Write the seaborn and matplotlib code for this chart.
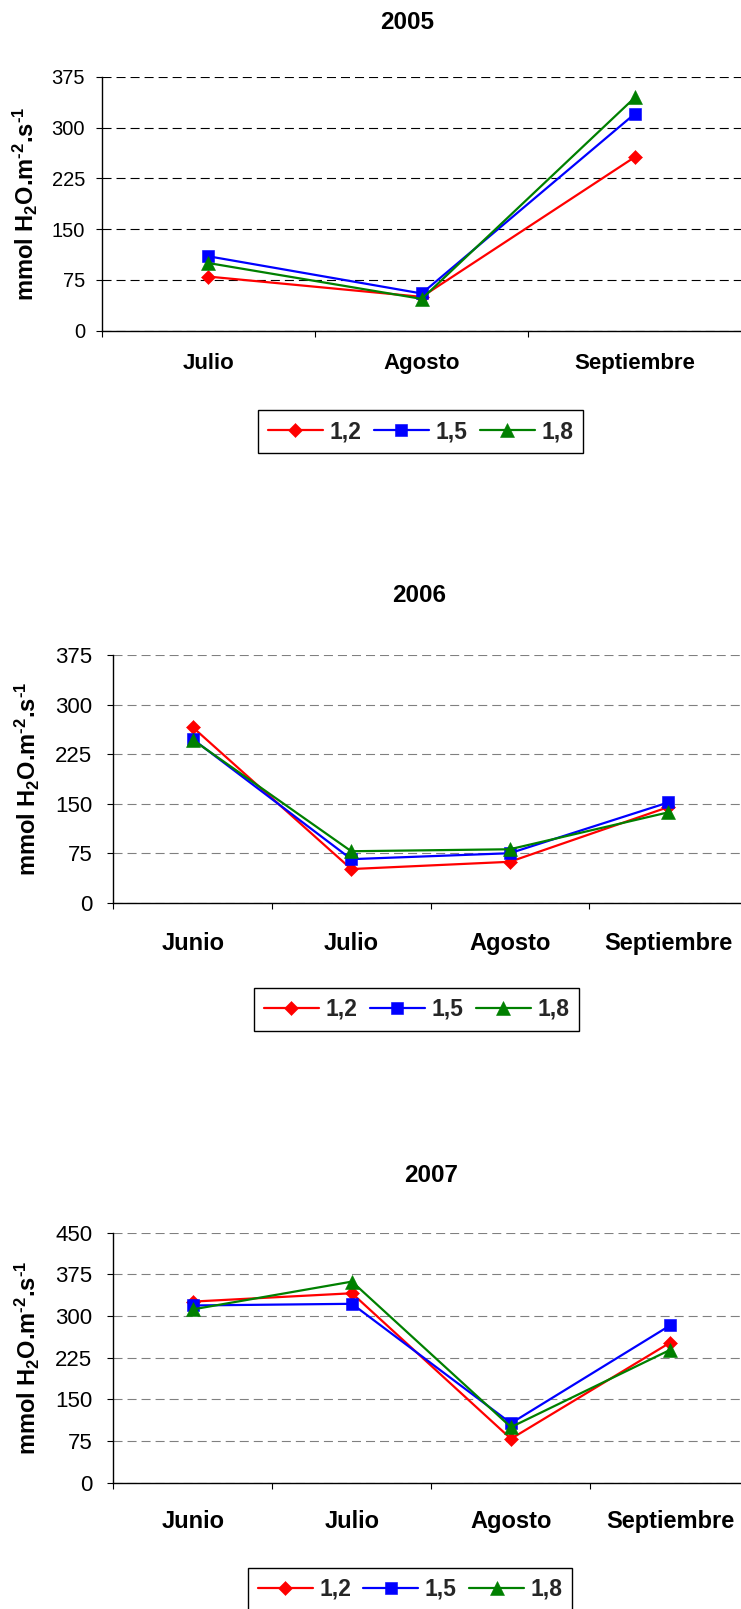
import numpy as np
import pandas as pd
import matplotlib
matplotlib.use("Agg")
import matplotlib.pyplot as plt
import seaborn as sns

# Series (plant spacing) and their styling
series_labels = ["1,2", "1,5", "1,8"]
series_colors = ["#FF0000", "#0000FF", "#008000"]
series_markers = ["D", "s", "^"]
series_msize = [7.0, 8.2, 9.8]

# 2005
months_2005 = ["Julio", "Agosto", "Septiembre"]
y2005_12 = [80, 50, 257]
y2005_15 = [110, 55, 321]
y2005_18 = [100, 47, 345]

# 2006
months_2006 = ["Junio", "Julio", "Agosto", "Septiembre"]
y2006_12 = [266, 51, 62, 145]
y2006_15 = [248, 66, 75, 152]
y2006_18 = [247, 78, 81, 137]

# 2007
months_2007 = ["Junio", "Julio", "Agosto", "Septiembre"]
y2007_12 = [326, 341, 79, 252]
y2007_15 = [319, 322, 107, 283]
y2007_18 = [312, 362, 100, 239]

yticks_a = [0, 75, 150, 225, 300, 375]
yticks_b = [0, 75, 150, 225, 300, 375, 450]

sns.set_theme(style="white")
plt.rcParams["font.family"] = ["Liberation Sans", "DejaVu Sans"]
plt.rcParams["mathtext.fontset"] = "custom"
plt.rcParams["mathtext.rm"] = "Liberation Sans:bold"
plt.rcParams["mathtext.default"] = "rm"
plt.rcParams["lines.scale_dashes"] = False

W, H = 741, 1609
fig = plt.figure(figsize=(W / 100, H / 100), dpi=100)
fig.patch.set_facecolor("white")


def px_rect(left, top, right, bottom):
    return [left / W, 1 - bottom / H, (right - left) / W, (bottom - top) / H]


panels = [
    dict(title="2005", months=months_2005, vals=[y2005_12, y2005_15, y2005_18],
         rect=(101.7, 77, 741.8, 330.7), yticks=yticks_a, grid="#000000",
         ytick_size=14.5, ytick_pad=7.7, xtick_size=16, xtick_pad=15.8,
         title_xy=(407, 29.3), ylab_x=25, leg_c=(420.6, 410.5)),
    dict(title="2006", months=months_2006, vals=[y2006_12, y2006_15, y2006_18],
         rect=(113.4, 655.3, 747.7, 902.7), yticks=yticks_a, grid="#808080",
         ytick_size=16, ytick_pad=11, xtick_size=17, xtick_pad=20.9,
         title_xy=(419, 601.7), ylab_x=27, leg_c=(416.4, 988.3)),
    dict(title="2007", months=months_2007, vals=[y2007_12, y2007_15, y2007_18],
         rect=(113.4, 1232.7, 749.5, 1482.7), yticks=yticks_b, grid="#808080",
         ytick_size=16, ytick_pad=11, xtick_size=17, xtick_pad=19.7,
         title_xy=(431, 1182), ylab_x=27, leg_c=(410.2, 1568.3)),
]

ylabel = r"mmol H$_{2}$O.m$^{\text{-2}}$.s$^{\text{-1}}$"

for p in panels:
    left, top, right, bottom = p["rect"]
    ax = fig.add_axes(px_rect(left, top, right, bottom))
    ax.set_facecolor("white")

    df = pd.DataFrame({
        "mes": p["months"] * 3,
        "valor": p["vals"][0] + p["vals"][1] + p["vals"][2],
        "serie": sum([[s] * len(p["months"]) for s in series_labels], []),
    })
    sns.lineplot(
        data=df, x="mes", y="valor", hue="serie", style="serie",
        hue_order=series_labels, style_order=series_labels,
        palette=dict(zip(series_labels, series_colors)),
        markers=dict(zip(series_labels, series_markers)),
        dashes=False, legend=False, linewidth=1.6, ax=ax, sort=False,
    )
    lines = ax.lines[:3]
    for ln, c, ms in zip(lines, series_colors, series_msize):
        ln.set_markersize(ms)
        ln.set_markerfacecolor(c)
        ln.set_markeredgecolor(c)
        ln.set_markeredgewidth(0.4)

    n = len(p["months"])
    ax.set_xlim(-0.5, n - 0.5)
    ax.set_ylim(p["yticks"][0], p["yticks"][-1])
    ax.set_yticks(p["yticks"])
    ax.set_xticks(np.arange(n))
    ax.set_xticks(np.arange(n + 1) - 0.5, minor=True)
    ax.set_xlabel("")
    ax.set_ylabel("")

    ax.yaxis.grid(True, color=p["grid"], linestyle=(0, (6.5, 3.6)), linewidth=0.8)
    ax.xaxis.grid(False)
    ax.set_axisbelow(True)

    for side in ("top", "right"):
        ax.spines[side].set_visible(False)
    for side in ("left", "bottom"):
        ax.spines[side].set_color("black")
        ax.spines[side].set_linewidth(1.0)

    ax.tick_params(axis="y", which="major", direction="out", length=4.3, width=0.8,
                   color="black", pad=p["ytick_pad"], labelsize=p["ytick_size"],
                   labelcolor="black", left=True)
    ax.tick_params(axis="x", which="major", length=0, pad=p["xtick_pad"],
                   labelsize=p["xtick_size"], labelcolor="black", bottom=True)
    ax.tick_params(axis="x", which="minor", direction="out", length=4.3, width=0.8,
                   color="black", bottom=True)
    for lbl in ax.get_xticklabels():
        lbl.set_fontweight("bold")

    tx, ty = p["title_xy"]
    fig.text(tx / W, 1 - ty / H, p["title"], ha="center", va="baseline",
             fontsize=17.5, fontweight="bold", color="black")

    fig.text(p["ylab_x"] / W, 1 - ((top + bottom) / 2) / H, ylabel, rotation=90,
             ha="center", va="center", fontsize=17, fontweight="bold", color="black")

    cx, cy = p["leg_c"]
    leg = ax.legend(
        lines, series_labels, loc="upper center",
        bbox_to_anchor=(cx / W, 1 - cy / H), bbox_transform=fig.transFigure,
        ncol=3, frameon=True, fancybox=False, shadow=False, edgecolor="black",
        framealpha=1, borderaxespad=0, handlelength=2.4, handletextpad=0.28,
        columnspacing=0.55, borderpad=0.42,
        prop={"weight": "bold", "size": 16.5},
    )
    leg.get_frame().set_linewidth(1.0)

fig.savefig("out.png", dpi=100, facecolor="white")
